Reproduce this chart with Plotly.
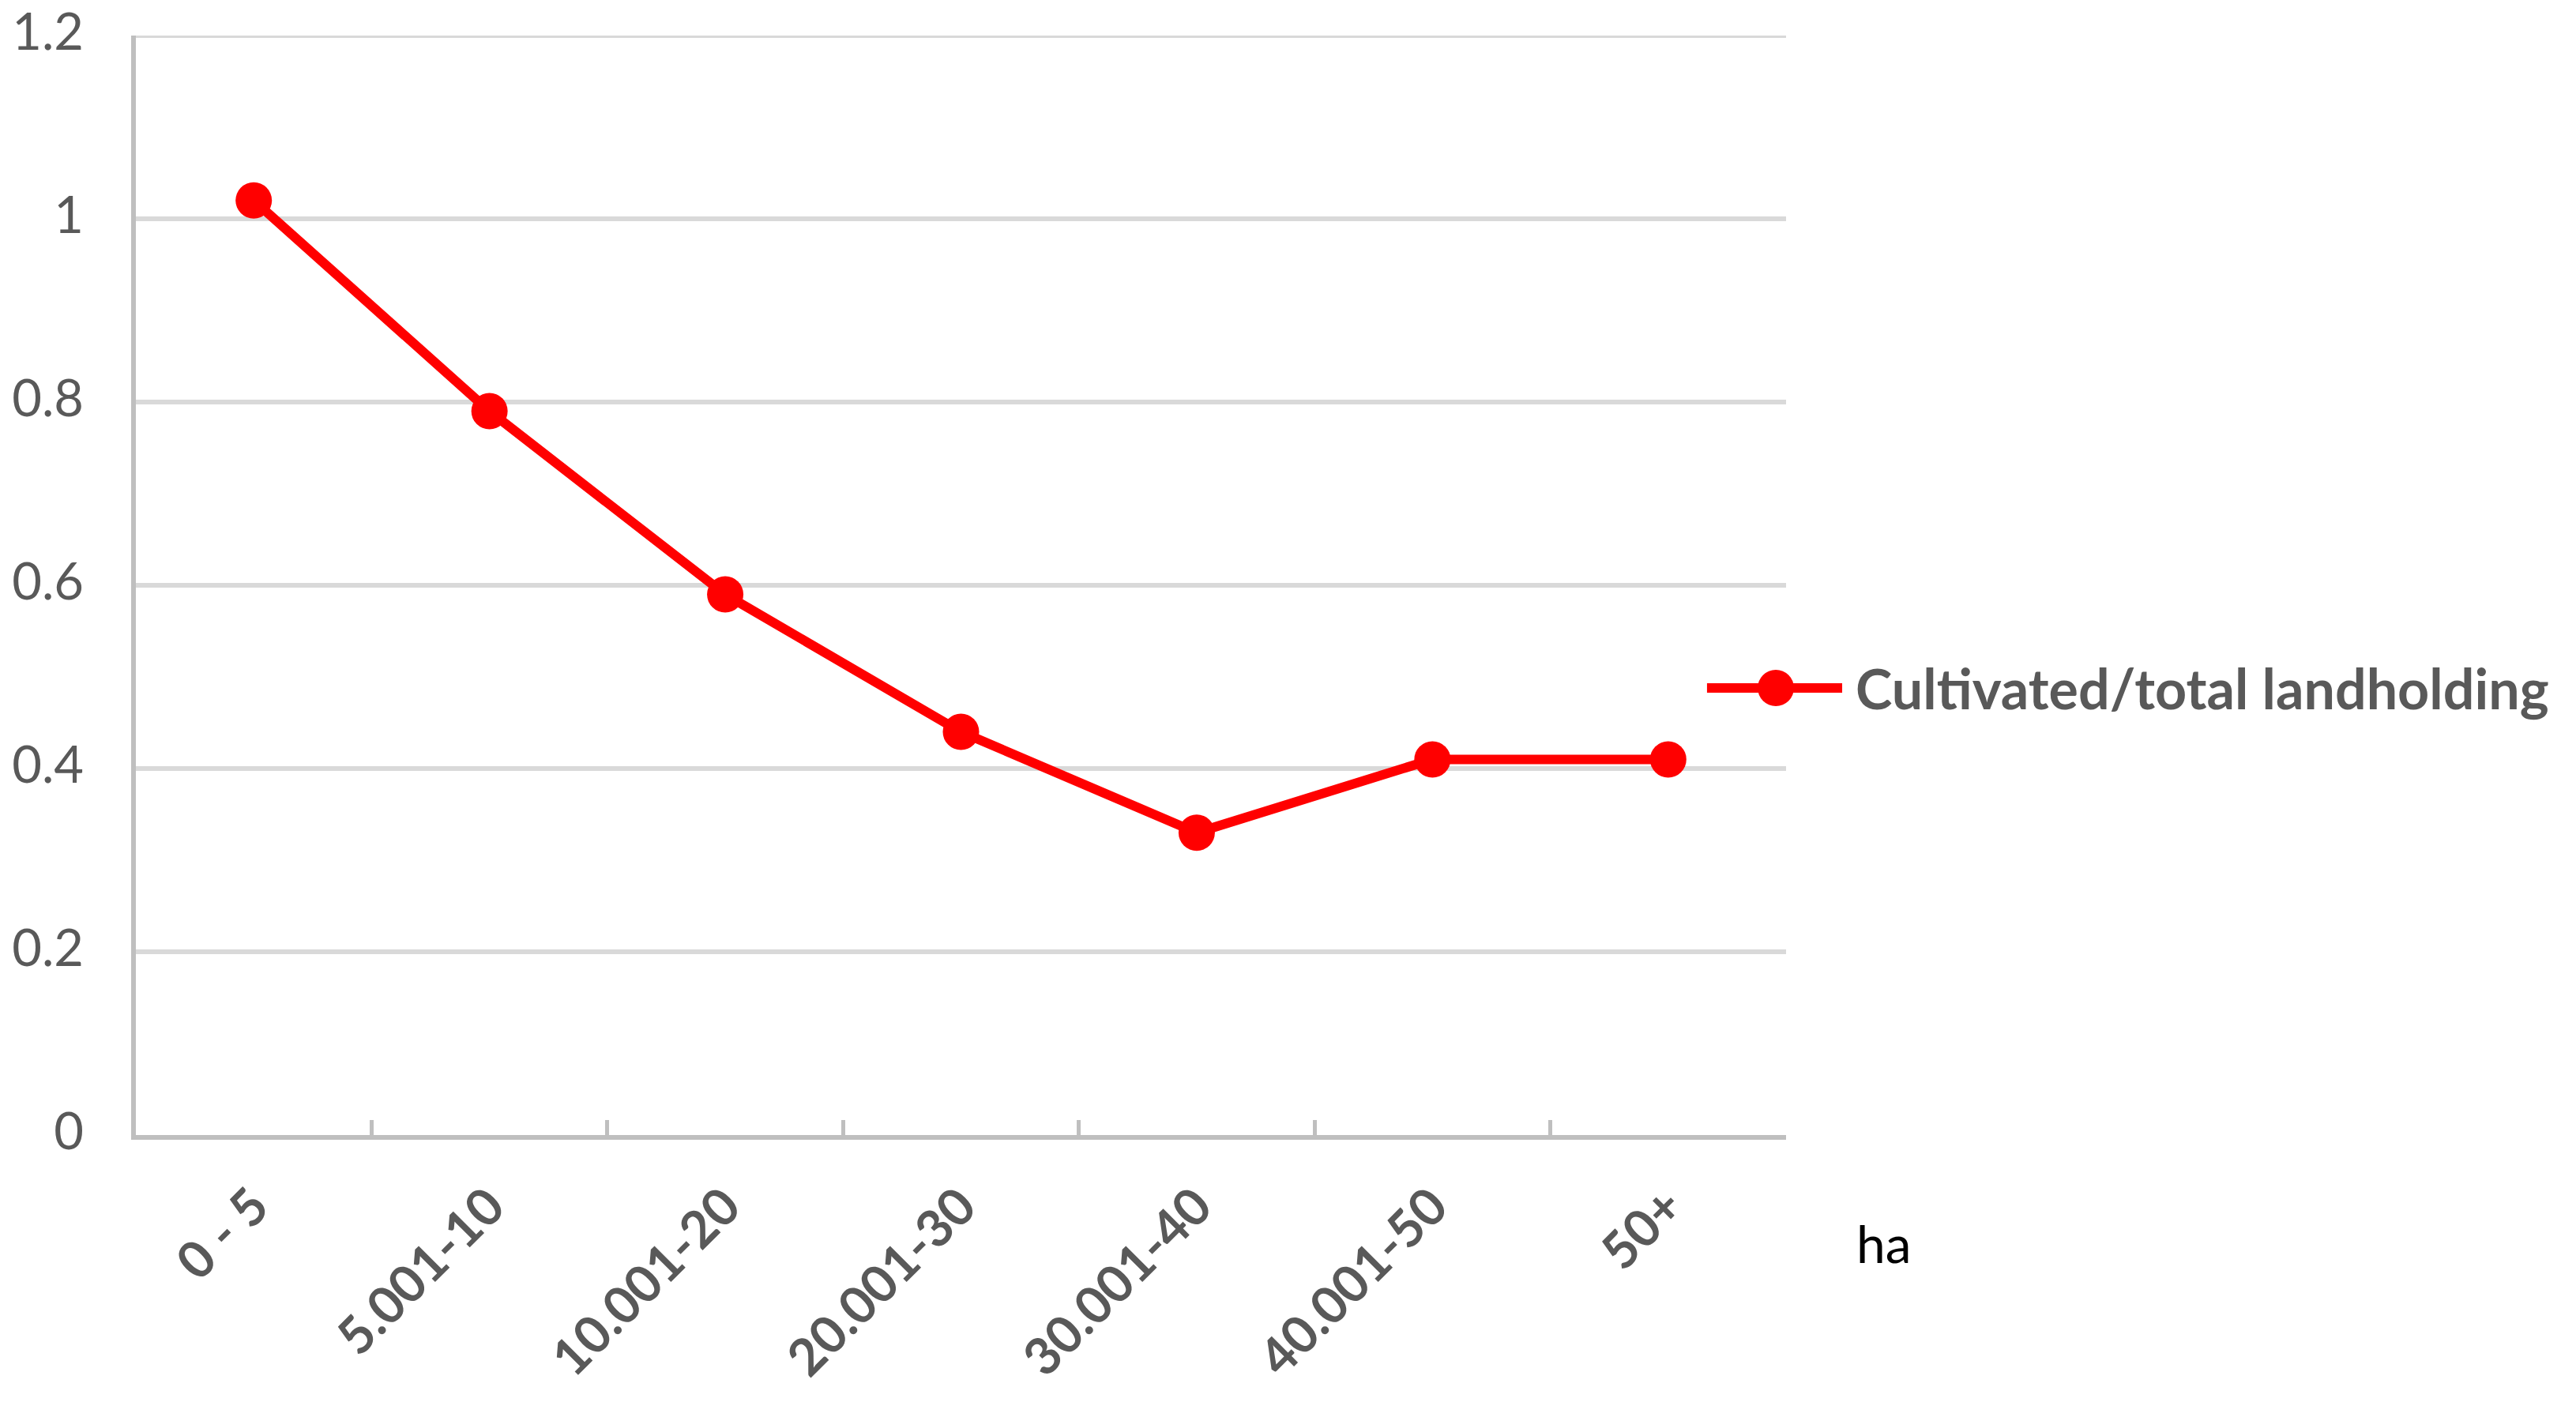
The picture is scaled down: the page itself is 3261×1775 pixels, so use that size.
import plotly.graph_objects as go

categories = ["0 - 5", "5.001-10", "10.001-20", "20.001-30", "30.001-40", "40.001-50", "50+"]
ratio = [1.02, 0.79, 0.59, 0.44, 0.33, 0.41, 0.41]
series_name = "Cultivated/total landholding"
y_ticks = [0, 0.2, 0.4, 0.6, 0.8, 1.0, 1.2]
y_ticklabels = ["0", "0.2", "0.4", "0.6", "0.8", "1", "1.2"]
y_max = 1.2

# page body has an 8px default margin: compensate so the plot lands where the original does
W, H = 3245, 1759
L, T = 164, 37
PW, PH = 2089, 1392
R, B = W - L - PW, H - T - PH
FONT = "Lato"
GRAY = "#595959"
RED = "#FF0000"
GRID = "#D9D9D9"

fig = go.Figure()
fig.add_trace(go.Scatter(
    x=categories, y=ratio, mode="lines+markers", name=series_name,
    line=dict(color=RED, width=12),
    marker=dict(color=RED, size=46),
    showlegend=False,
))

# top gridline (plotly drops the gridline sitting on the plot edge)
fig.add_shape(type="line", xref="paper", yref="y", x0=0, x1=1, y0=y_max, y1=y_max,
              line=dict(color=GRID, width=6), layer="below")

# legend drawn manually (large glyph like the original)
leg_y = 0.4066
fig.add_shape(type="line", xref="paper", yref="paper",
              x0=0.9521, x1=1.034, y0=leg_y, y1=leg_y,
              line=dict(color=RED, width=12))
fig.add_shape(type="circle", xref="paper", yref="paper",
              xsizemode="pixel", ysizemode="pixel",
              xanchor=0.9938, yanchor=leg_y,
              x0=-23, x1=23, y0=-23, y1=23,
              fillcolor=RED, line=dict(color=RED, width=0))
fig.add_annotation(text=series_name, xref="paper", yref="paper",
                   x=1.0412, y=leg_y, xanchor="left", yanchor="middle",
                   showarrow=False,
                   font=dict(family=FONT, size=70, color=GRAY, weight="bold"))
fig.add_annotation(text="ha", xref="paper", yref="paper",
                   x=1.0594, y=-0.0984, xanchor="center", yanchor="middle",
                   showarrow=False,
                   font=dict(family=FONT, size=66, color="#000000"))

fig.update_layout(
    width=W, height=H,
    margin=dict(l=L, r=R, t=T, b=B, pad=0),
    paper_bgcolor="white", plot_bgcolor="white",
    font=dict(family=FONT, color=GRAY),
)
fig.update_xaxes(
    type="category", range=[-0.5, 6.5], automargin=False,
    showline=True, linecolor="#BFBFBF", linewidth=6,
    showgrid=False, zeroline=False,
    ticks="inside", tickson="boundaries", ticklen=19, tickwidth=5, tickcolor="#BFBFBF",
    tickangle=-45, ticklabelstandoff=20, ticklabeloverflow="allow",
    tickfont=dict(family=FONT, size=65, color=GRAY, weight="bold"),
)
fig.update_yaxes(
    range=[0, y_max], tickvals=y_ticks, ticktext=y_ticklabels, automargin=False,
    showline=True, linecolor="#BFBFBF", linewidth=6,
    showgrid=True, gridcolor=GRID, gridwidth=6,
    zeroline=False, ticks="", ticklabelstandoff=47, ticklabelshift=-5,
    ticklabeloverflow="allow",
    tickfont=dict(family=FONT, size=65, color=GRAY),
)

fig.write_html("out.html")
